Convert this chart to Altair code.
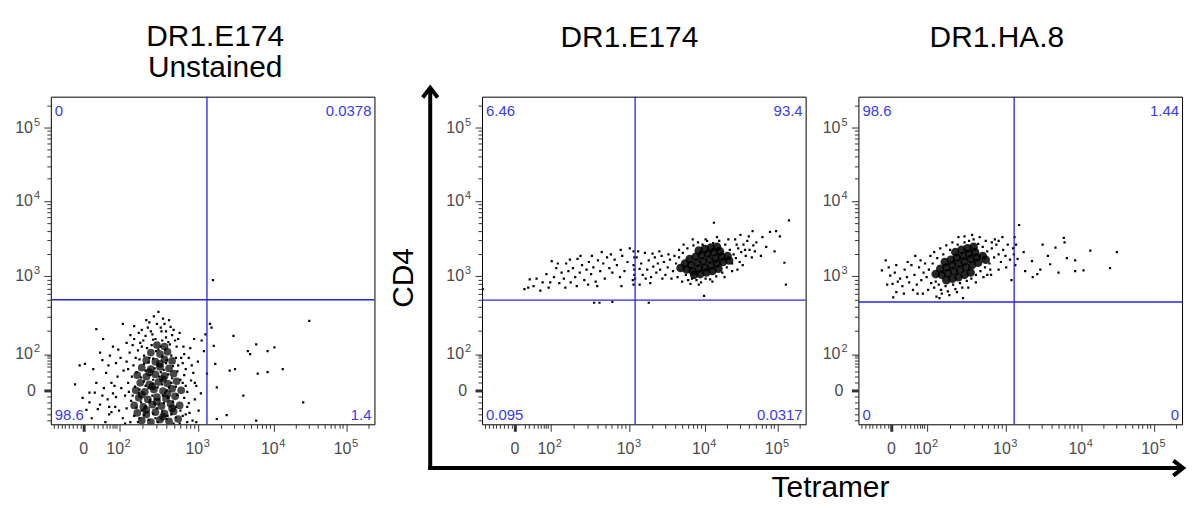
import math
import altair as alt
import pandas as pd

# ---------------- biexponential display axes (display units) ----------------
X_DOMAIN = [1.10, 5.37]
Y_DOMAIN = [1.07, 5.41]
X_ZERO = 1.535
Y_ZERO = 1.514
X_MAJOR = [2.0, 3.045, 4.04, 5.0]   # 10^2, 10^3, 10^4, 10^5
Y_MAJOR = [2.0, 3.03, 4.03, 5.0]
MAJOR_BASE = ["10", "10", "10", "10"]
MAJOR_EXP = ["2", "3", "4", "5"]
X_LINEAR_TICKS = [1.14, 1.19, 1.24, 1.29, 1.34, 1.39, 1.44, 1.49,
                  1.66, 1.72, 1.78, 1.83, 1.87, 1.91, 1.94, 1.97]
Y_LINEAR_TICKS = [1.12, 1.20, 1.28, 1.36, 1.44,
                  1.62, 1.70, 1.77, 1.83, 1.88, 1.92, 1.95, 1.98]

# ---------------- panel texts ----------------
titles = [["DR1.E174", "Unstained"], ["DR1.E174"], ["DR1.HA.8"]]
quadrant_pct = [  # top-left, top-right, bottom-left, bottom-right
    ["0", "0.0378", "98.6", "1.4"],
    ["6.46", "93.4", "0.095", "0.0317"],
    ["98.6", "1.44", "0", "0"],
]
gate_x = [3.16, 3.12, 3.155]
gate_y = [2.72, 2.715, 2.69]

# ---------------- events (Tetramer, CD4 in display units) ----------------
p1_core = [
    (2.30, 1.12), (2.42, 1.10), (2.54, 1.13), (2.66, 1.11), (2.78, 1.14),
    (2.24, 1.22), (2.36, 1.20), (2.48, 1.23), (2.60, 1.21), (2.72, 1.24),
    (2.20, 1.32), (2.32, 1.30), (2.44, 1.33), (2.56, 1.31), (2.68, 1.34), (2.80, 1.32),
    (2.26, 1.42), (2.38, 1.40), (2.50, 1.43), (2.62, 1.41), (2.74, 1.44),
    (2.22, 1.52), (2.34, 1.50), (2.46, 1.53), (2.58, 1.51), (2.70, 1.54), (2.82, 1.52),
    (2.28, 1.62), (2.40, 1.60), (2.52, 1.63), (2.64, 1.61), (2.76, 1.64),
    (2.24, 1.72), (2.36, 1.70), (2.48, 1.73), (2.60, 1.71), (2.72, 1.74),
    (2.30, 1.82), (2.42, 1.80), (2.54, 1.83), (2.66, 1.81),
    (2.36, 1.92), (2.48, 1.90), (2.60, 1.93), (2.70, 1.91),
    (2.42, 2.02), (2.54, 2.00), (2.64, 2.03),
    (2.50, 2.12), (2.60, 2.10),
    (2.36, 1.26), (2.50, 1.37), (2.64, 1.47), (2.44, 1.57), (2.58, 1.67), (2.40, 1.76),
    (2.54, 1.87), (2.30, 1.46), (2.70, 1.28), (2.58, 1.17),
]
p1_dots = [
    (2.05, 1.15), (2.10, 1.28), (2.08, 1.45), (2.12, 1.62), (2.06, 1.78), (2.10, 1.90),
    (2.14, 2.02), (2.18, 2.12), (2.16, 1.38), (2.03, 1.55), (1.98, 1.70), (1.95, 1.30),
    (1.92, 1.48), (1.96, 1.88), (1.99, 2.06), (1.90, 1.62), (1.87, 1.20), (1.85, 1.40),
    (1.80, 1.55), (1.83, 1.75), (1.78, 1.92), (1.75, 1.33), (1.72, 1.27), (1.68, 1.49),
    (1.61, 1.49), (1.61, 1.36), (1.57, 1.26), (1.55, 1.87), (1.48, 1.85), (1.42, 1.60),
    (1.70, 2.33), (1.79, 2.20), (1.75, 2.02), (1.87, 1.30), (1.90, 1.23), (1.96, 1.43),
    (2.20, 2.20), (2.26, 2.28), (2.32, 2.18), (2.38, 2.35), (2.44, 2.26), (2.50, 2.40),
    (2.56, 2.30), (2.62, 2.22), (2.68, 2.36), (2.74, 2.18), (2.80, 2.28), (2.46, 2.50),
    (2.58, 2.47), (2.52, 2.56), (2.36, 2.45), (2.66, 2.45), (2.05, 2.40), (2.20, 2.37),
    (2.85, 2.10), (2.30, 2.10),
    (2.88, 1.20), (2.92, 1.35), (2.90, 1.50), (2.95, 1.65), (2.88, 1.80), (2.92, 1.95),
    (2.97, 1.12), (3.00, 1.40), (3.02, 1.58), (2.98, 1.75), (3.04, 1.90), (2.86, 2.00),
    (3.05, 1.25), (3.08, 1.48), (2.94, 2.08), (2.99, 2.20), (3.02, 1.10), (2.84, 1.62),
    (2.86, 1.42), (2.90, 1.10),
    (2.30, 1.25), (2.40, 1.36), (2.50, 1.28), (2.58, 1.45), (2.66, 1.56), (2.45, 1.66),
    (2.35, 1.58), (2.55, 1.76), (2.62, 1.88), (2.40, 1.95), (2.70, 1.68), (2.26, 1.48),
    (2.48, 1.15), (2.75, 1.30), (2.52, 2.06), (2.33, 1.87), (2.64, 1.18), (2.44, 1.45),
    (2.57, 1.60), (2.78, 1.85),
    (2.27, 1.15), (2.33, 1.19), (2.39, 1.13), (2.45, 1.21), (2.51, 1.10), (2.57, 1.24),
    (2.63, 1.14), (2.69, 1.20), (2.75, 1.16), (2.81, 1.25), (2.23, 1.29), (2.29, 1.36),
    (2.35, 1.31), (2.41, 1.39), (2.47, 1.34), (2.53, 1.40), (2.59, 1.35), (2.65, 1.42),
    (2.71, 1.37), (2.77, 1.46), (2.21, 1.57), (2.27, 1.53), (2.33, 1.64), (2.39, 1.55),
    (2.45, 1.61), (2.51, 1.56), (2.57, 1.66), (2.63, 1.52), (2.69, 1.62), (2.75, 1.57),
    (2.81, 1.66), (2.23, 1.76), (2.29, 1.69), (2.35, 1.78), (2.41, 1.72), (2.47, 1.81),
    (2.53, 1.70), (2.59, 1.79), (2.65, 1.73), (2.71, 1.84), (2.77, 1.77), (2.27, 1.93),
    (2.33, 1.98), (2.39, 1.89), (2.45, 1.94), (2.51, 1.85), (2.57, 1.97), (2.63, 1.92),
    (2.69, 1.98), (2.75, 1.95), (2.37, 2.08), (2.43, 2.12), (2.49, 2.04), (2.55, 2.10),
    (2.61, 2.06), (2.67, 2.13), (2.45, 2.19), (2.57, 2.18), (2.65, 2.16),
    (2.15, 1.10), (2.20, 1.18), (2.13, 1.50), (2.17, 1.70), (2.19, 1.85), (2.22, 1.95),
    (2.25, 2.05), (2.28, 2.15), (2.35, 2.24), (2.42, 2.30), (2.48, 2.20), (2.55, 2.35),
    (2.62, 2.30), (2.70, 2.25), (2.76, 2.10), (2.82, 1.95), (2.84, 1.88), (2.86, 1.72),
    (2.88, 1.58), (2.90, 1.30), (2.84, 1.18), (2.80, 1.08), (2.72, 1.08), (2.18, 1.45),
    (2.12, 1.80), (2.02, 1.95), (2.00, 1.25), (1.94, 1.58), (1.86, 1.85), (1.82, 1.10),
    (1.78, 1.45), (1.70, 1.62), (1.66, 1.80), (1.64, 1.15), (1.52, 1.42), (2.40, 2.42),
    (2.30, 2.32), (2.60, 2.40), (2.72, 2.32), (2.78, 2.20), (2.96, 1.85), (2.93, 1.22),
    (3.00, 1.62), (2.25, 1.10), (2.08, 1.08), (2.15, 2.25), (2.10, 2.15), (1.92, 2.10),
    (1.88, 1.98),
    (3.24, 2.98), (3.20, 2.40), (3.22, 2.35), (3.14, 2.26), (3.25, 2.11), (3.27, 1.87),
    (3.29, 1.56), (3.51, 2.24), (3.46, 1.78), (3.53, 1.80), (3.70, 2.04), (3.73, 2.00),
    (3.81, 2.13), (3.83, 1.74), (3.96, 2.04), (3.96, 1.76), (4.05, 2.09), (4.16, 1.80),
    (4.51, 2.44), (4.43, 1.36), (3.64, 1.45), (3.42, 1.19), (3.29, 1.14), (3.81, 1.12),
    (3.09, 2.18), (3.12, 2.04), (3.16, 1.74),
]

p2_core = [
    (3.80, 3.12), (3.88, 3.10), (3.96, 3.13), (4.04, 3.15), (4.12, 3.17), (4.20, 3.20), (4.28, 3.22),
    (3.78, 3.20), (3.86, 3.18), (3.94, 3.21), (4.02, 3.23), (4.10, 3.25), (4.18, 3.27), (4.26, 3.29),
    (4.34, 3.30),
    (3.84, 3.26), (3.92, 3.29), (4.00, 3.31), (4.08, 3.33), (4.16, 3.35), (4.24, 3.36),
    (3.90, 3.05), (3.98, 3.06), (4.06, 3.08), (4.14, 3.10), (4.22, 3.13),
    (3.96, 3.37), (4.04, 3.39), (4.12, 3.41), (4.20, 3.42),
    (3.72, 3.14), (4.36, 3.24),
]
p2_dots = [
    (3.62, 3.10), (3.66, 3.20), (3.68, 3.02), (3.70, 3.28), (3.74, 2.96), (3.75, 3.34),
    (3.79, 3.05), (3.81, 3.40), (3.85, 2.93), (3.87, 3.00), (3.89, 3.44), (3.93, 2.98),
    (3.95, 3.48), (3.99, 2.95), (4.01, 3.45), (4.05, 3.00), (4.07, 3.50), (4.11, 2.99),
    (4.15, 3.47), (4.19, 3.03), (4.23, 3.50), (4.27, 3.08), (4.31, 3.45), (4.33, 3.15),
    (4.37, 3.38), (4.40, 3.20), (4.42, 3.32), (4.45, 3.27), (4.48, 3.40), (4.50, 3.22),
    (4.52, 3.35), (4.55, 3.45), (4.58, 3.30), (4.60, 3.50), (4.63, 3.38), (4.47, 3.12),
    (4.44, 3.52), (3.58, 3.25), (3.55, 3.15), (3.52, 3.05), (3.50, 3.22), (3.47, 3.30),
    (3.45, 3.12), (3.42, 3.20), (3.40, 3.08), (3.38, 3.28), (3.36, 3.16), (3.33, 3.02),
    (3.30, 3.24), (3.28, 3.12), (3.25, 3.34), (3.22, 3.05), (3.20, 3.20), (3.18, 3.13),
    (3.14, 3.28), (3.12, 3.00),
    (3.10, 2.92), (3.11, 3.05), (3.10, 3.18), (3.11, 3.28), (3.10, 3.36), (3.09, 2.98),
    (3.11, 3.12),
    (3.02, 3.22), (2.98, 3.10), (2.95, 3.30), (2.92, 3.02), (2.88, 3.18), (2.85, 3.25),
    (2.82, 3.08), (2.78, 3.14), (2.75, 3.28), (2.72, 3.00), (2.70, 3.20), (2.66, 3.10),
    (2.63, 3.24), (2.60, 2.96), (2.57, 3.15), (2.54, 3.06), (2.51, 3.22), (2.48, 3.12),
    (2.45, 2.98), (2.42, 3.18), (2.39, 3.08), (2.36, 3.26), (2.33, 3.02), (2.30, 3.14),
    (2.27, 2.95), (2.24, 3.10), (2.21, 3.20), (2.18, 3.00), (2.15, 3.08), (2.12, 2.94),
    (2.08, 3.14), (2.05, 3.02), (2.02, 3.23), (1.98, 2.88), (1.95, 3.06), (1.90, 2.95),
    (1.87, 2.84), (1.82, 3.00), (1.78, 2.90), (1.73, 2.99), (1.71, 2.88), (1.66, 2.86),
    (1.11, 2.86),
    (3.70, 3.38), (3.76, 3.45), (3.82, 2.98), (3.88, 3.52), (3.96, 2.92), (4.05, 3.52),
    (4.14, 2.96), (4.20, 3.55), (4.30, 3.02), (4.35, 3.52), (4.40, 3.10), (4.46, 3.45),
    (4.54, 3.18), (4.57, 3.38), (4.66, 3.28), (4.68, 3.44), (3.64, 3.30), (3.60, 3.00),
    (3.56, 3.32), (3.48, 3.00), (3.44, 3.36), (3.35, 3.33), (3.26, 3.00), (3.16, 3.36),
    (2.93, 3.38), (2.80, 3.32), (2.68, 3.35), (2.55, 3.30), (2.40, 3.30), (2.26, 3.25),
    (2.10, 3.20), (2.62, 2.90), (2.50, 2.92), (2.35, 2.90), (2.20, 2.88), (2.00, 2.95),
    (2.94, 2.90), (3.18, 2.92), (3.32, 2.94), (3.05, 3.40),
    (3.85, 3.14), (3.93, 3.25), (4.02, 3.18), (4.10, 3.30), (4.18, 3.22), (4.26, 3.34),
    (3.98, 3.35), (4.08, 3.12), (3.90, 3.08), (4.22, 3.40),
    (4.98, 3.63), (5.15, 3.77), (5.09, 3.21), (5.11, 2.92), (4.96, 3.36), (5.03, 3.56),
    (4.67, 3.63), (4.51, 3.58), (4.16, 3.74), (4.72, 3.48), (4.80, 3.55), (4.85, 3.42),
    (4.78, 3.30), (4.70, 3.36), (4.90, 3.62), (4.62, 3.56),
    (2.65, 2.68), (2.82, 2.69), (3.30, 2.68), (4.03, 2.77), (2.58, 2.68),
]

p3_core = [
    (2.20, 3.05), (2.28, 3.07), (2.36, 3.10), (2.44, 3.12), (2.52, 3.15), (2.60, 3.18), (2.68, 3.21),
    (2.18, 3.13), (2.26, 3.15), (2.34, 3.18), (2.42, 3.20), (2.50, 3.23), (2.58, 3.26), (2.66, 3.28),
    (2.74, 3.30),
    (2.24, 3.22), (2.32, 3.25), (2.40, 3.28), (2.48, 3.30), (2.56, 3.33), (2.64, 3.35),
    (2.26, 2.98), (2.34, 3.00), (2.42, 3.02), (2.50, 3.05), (2.58, 3.08),
    (2.38, 3.35), (2.46, 3.38), (2.54, 3.40), (2.62, 3.42),
    (2.12, 3.06), (2.78, 3.25),
]
p3_dots = [
    (2.00, 3.02), (2.03, 3.12), (2.06, 2.94), (2.08, 3.20), (2.10, 2.88), (2.14, 3.27),
    (2.16, 2.92), (2.19, 2.85), (2.22, 3.32), (2.25, 2.90), (2.28, 2.83), (2.31, 3.38),
    (2.35, 2.92), (2.38, 2.86), (2.41, 3.45), (2.44, 2.94), (2.47, 2.88), (2.50, 3.48),
    (2.53, 2.97), (2.56, 3.50), (2.59, 3.00), (2.62, 3.52), (2.65, 3.05), (2.68, 3.46),
    (2.71, 3.10), (2.74, 3.42), (2.77, 3.15), (2.80, 3.36), (2.83, 3.20), (2.86, 3.40),
    (2.89, 3.28), (2.92, 3.45), (2.95, 3.32), (2.98, 3.22), (3.01, 3.38), (3.04, 3.30),
    (3.07, 3.45), (3.10, 3.25), (2.90, 3.52), (2.84, 3.12),
    (1.96, 3.08), (1.93, 2.98), (1.90, 3.15), (1.87, 2.92), (1.84, 3.05), (1.80, 3.18),
    (1.77, 2.95), (1.74, 3.02), (1.71, 3.12), (1.68, 2.90), (1.65, 3.00), (1.62, 2.96),
    (1.58, 3.08), (1.55, 2.93), (1.52, 3.04), (1.48, 2.92), (1.46, 3.24), (1.41, 3.11),
    (1.56, 2.75), (1.60, 2.82), (1.70, 2.80), (1.82, 2.85), (1.95, 2.80),
    (2.05, 3.30), (2.10, 3.35), (2.18, 3.40), (2.26, 3.44), (2.34, 3.48), (2.42, 3.55),
    (2.50, 3.56), (2.60, 3.58), (2.70, 3.55), (2.78, 3.50), (2.86, 3.48), (2.95, 3.50),
    (3.00, 3.55), (2.20, 2.80), (2.30, 2.78), (2.40, 2.82), (2.55, 2.88), (2.65, 2.95),
    (2.75, 3.02), (2.85, 3.05), (2.95, 3.12), (3.05, 3.15), (1.98, 3.20), (1.92, 3.24),
    (1.85, 3.30), (1.75, 3.22), (1.60, 3.18), (1.50, 3.15), (2.02, 2.85), (1.88, 2.80),
    (2.12, 2.96), (2.80, 3.05),
    (2.30, 3.12), (2.40, 3.06), (2.48, 3.18), (2.56, 3.12), (2.64, 3.24), (2.36, 3.24),
    (2.52, 3.36), (2.22, 3.08), (2.70, 3.30), (2.44, 3.28),
    (3.22, 3.71), (3.18, 3.45), (3.16, 3.55), (3.15, 3.32), (3.17, 3.18), (3.14, 3.40),
    (3.20, 3.26), (3.28, 3.35), (3.39, 3.23), (3.53, 3.45), (3.50, 3.12), (3.63, 3.19),
    (3.74, 3.08), (3.70, 3.41), (3.81, 3.54), (3.85, 3.27), (3.96, 3.24), (3.96, 3.10),
    (4.07, 3.11), (4.16, 3.37), (4.42, 3.14), (4.51, 3.35), (3.46, 3.06), (3.30, 3.10),
    (3.12, 2.98), (3.40, 3.02), (3.60, 3.30), (3.82, 3.48),
    (2.13, 2.76), (2.17, 2.74), (2.48, 2.74),
]

# ---------------- styling ----------------
FONT = "Liberation Sans"
BLUE_LINE = "#2424e6"
BLUE_TEXT = "#3a3af0"
LABEL_COLOR = "#4a4a4a"
W, H = 325, 329


def log_minor(major, top):
    """Minor ticks at 2..9 x 10^n inside each displayed decade."""
    edges = list(major) + [major[-1] + (major[-1] - major[-2])]
    vals = []
    for a, b in zip(edges[:-1], edges[1:]):
        for k in range(2, 10):
            v = round(a + (b - a) * math.log10(k), 3)
            if v < top:
                vals.append(v)
    return vals


def make_axis(zero, major, linear_ticks, top, orient):
    vals = [zero] + major + linear_ticks + log_minor(major, top)
    major_list = ",".join(str(m) for m in major)
    major_test = f"datum.value == {zero} || indexof([{major_list}], datum.value) >= 0"
    return alt.Axis(
        values=vals,
        labels=False,
        orient=orient,
        title=None,
        grid=False,
        domain=False,
        ticks=True,
        tickColor="#333333",
        tickSize={"condition": {"test": major_test, "value": 7}, "value": 4},
        tickWidth={"condition": {"test": f"datum.value == {zero}", "value": 3}, "value": 1},
    )


def one(text):
    return pd.DataFrame({"t": [text]})


def text_mark(text, x, y, **kw):
    return alt.Chart(one(text)).mark_text(**kw).encode(
        text="t:N", x=alt.value(x), y=alt.value(y)
    )


def panel(core, dots, gx, gy, pct, title_lines, title_cx, core_size, core_opacity, extra=None):
    xs = alt.Scale(domain=X_DOMAIN, nice=False, zero=False)
    ys = alt.Scale(domain=Y_DOMAIN, nice=False, zero=False)
    xaxis = make_axis(X_ZERO, X_MAJOR, X_LINEAR_TICKS, X_DOMAIN[1], "bottom")
    yaxis = make_axis(Y_ZERO, Y_MAJOR, Y_LINEAR_TICKS, Y_DOMAIN[1], "left")
    X = alt.X("x:Q", scale=xs, axis=xaxis)
    Y = alt.Y("y:Q", scale=ys, axis=yaxis)

    core_df = pd.DataFrame(core, columns=["x", "y"])
    dots_df = pd.DataFrame(dots, columns=["x", "y"])

    core_layer = alt.Chart(core_df).mark_circle(
        size=core_size, opacity=core_opacity, color="black", clip=True
    ).encode(x=X, y=Y)
    dots_layer = alt.Chart(dots_df).mark_square(
        size=5, opacity=1, color="black", clip=True
    ).encode(x=X, y=Y)
    vgate = alt.Chart(pd.DataFrame({"x": [gx]})).mark_rule(
        color=BLUE_LINE, strokeWidth=1.3
    ).encode(x=X)
    hgate = alt.Chart(pd.DataFrame({"y": [gy]})).mark_rule(
        color=BLUE_LINE, strokeWidth=1.3
    ).encode(y=Y)

    # tick labels: "0", and 10 with a raised exponent, placed through the scales
    xlab = pd.DataFrame({"x": X_MAJOR, "base": MAJOR_BASE, "exp": MAJOR_EXP})
    ylab = pd.DataFrame({"y": Y_MAJOR, "base": MAJOR_BASE, "exp": MAJOR_EXP})
    lstyle = dict(font=FONT, fontSize=16, color=LABEL_COLOR, baseline="alphabetic")
    estyle = dict(font=FONT, fontSize=11, color=LABEL_COLOR, baseline="alphabetic")
    x_base = alt.Chart(xlab).mark_text(align="right", dx=5, **lstyle).encode(
        x=X, y=alt.value(H + 30), text="base:N")
    x_exp = alt.Chart(xlab).mark_text(align="left", dx=5.5, **estyle).encode(
        x=X, y=alt.value(H + 23), text="exp:N")
    x_zero = alt.Chart(pd.DataFrame({"x": [X_ZERO], "t": ["0"]})).mark_text(
        align="center", **lstyle).encode(x=X, y=alt.value(H + 30), text="t:N")
    y_base = alt.Chart(ylab).mark_text(align="right", dy=5, **lstyle).encode(
        y=Y, x=alt.value(-18), text="base:N")
    y_exp = alt.Chart(ylab).mark_text(align="left", dy=-2, **estyle).encode(
        y=Y, x=alt.value(-17), text="exp:N")
    y_zero = alt.Chart(pd.DataFrame({"y": [Y_ZERO], "t": ["0"]})).mark_text(
        align="right", dy=5, **lstyle).encode(y=Y, x=alt.value(-15), text="t:N")

    qstyle = dict(font=FONT, fontSize=15, color=BLUE_TEXT, baseline="alphabetic")
    quads = [
        text_mark(pct[0], 4, 19, align="left", **qstyle),
        text_mark(pct[1], W - 3, 19, align="right", **qstyle),
        text_mark(pct[2], 4, H - 4, align="left", **qstyle),
        text_mark(pct[3], W - 3, H - 4, align="right", **qstyle),
    ]
    tstyle = dict(font=FONT, fontSize=30, color="black", align="center", baseline="alphabetic")
    if len(title_lines) == 2:
        tmarks = [text_mark(title_lines[0], title_cx, -51, **tstyle),
                  text_mark(title_lines[1], title_cx, -20, **tstyle)]
    else:
        tmarks = [text_mark(title_lines[0], title_cx, -50, **tstyle)]

    layers = ([core_layer, dots_layer, vgate, hgate,
               x_base, x_exp, x_zero, y_base, y_exp, y_zero] + quads + tmarks)
    if extra:
        layers += extra
    return alt.layer(*layers).properties(width=W, height=H)


# big axis arrows + axis names, drawn relative to the middle panel
arrow_df = one("a")
v_shaft = alt.Chart(arrow_df).mark_rule(color="black", strokeWidth=4).encode(
    x=alt.value(-52), y=alt.value(-8), y2=alt.value(375))
h_shaft = alt.Chart(arrow_df).mark_rule(color="black", strokeWidth=4).encode(
    x=alt.value(-54), x2=alt.value(703), y=alt.value(373))
v_head = alt.Chart(arrow_df).mark_point(
    shape="M-1,1.3L0,0L1,1.3", filled=False, strokeWidth=4, size=225, opacity=1,
    color="black", strokeJoin="miter").encode(x=alt.value(-52), y=alt.value(-9))
h_head = alt.Chart(arrow_df).mark_point(
    shape="M-1.3,-1L0,0L-1.3,1", filled=False, strokeWidth=4, size=225, opacity=1,
    color="black", strokeJoin="miter").encode(x=alt.value(704), y=alt.value(373))
cd4 = text_mark("CD4", -78, 182, font=FONT, fontSize=30, angle=270,
                align="center", baseline="middle", color="black")
tetramer = text_mark("Tetramer", 350, 402, font=FONT, fontSize=30,
                     align="center", baseline="alphabetic", color="black")

p1 = panel(p1_core, p1_dots, gate_x[0], gate_y[0], quadrant_pct[0], titles[0], 165, 60, 0.72)
p2 = panel(p2_core, p2_dots, gate_x[1], gate_y[1], quadrant_pct[1], titles[1], 148, 75, 0.85,
           extra=[v_shaft, h_shaft, v_head, h_head, cd4, tetramer])
p3 = panel(p3_core, p3_dots, gate_x[2], gate_y[2], quadrant_pct[2], titles[2], 139, 75, 0.85)

chart = alt.hconcat(
    p1,
    alt.hconcat(p2, p3, spacing=53, bounds="flush"),
    spacing=108,
    bounds="flush",
).properties(
    padding={"left": 6, "top": 12, "right": 0, "bottom": 0},
    background="white",
).configure_view(
    stroke="black", strokeWidth=1
)

chart.save("out.html", embed_options={"renderer": "svg", "actions": False})
